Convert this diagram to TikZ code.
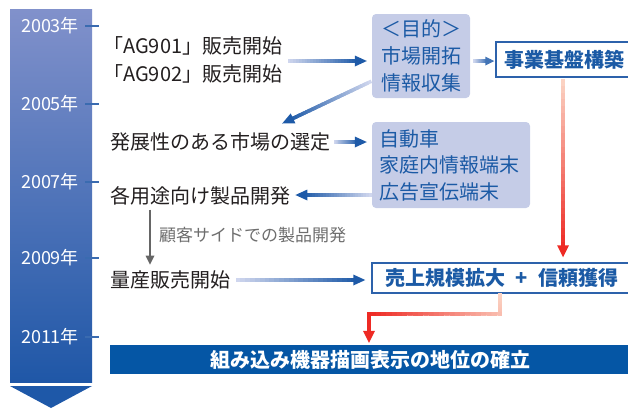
\documentclass[tikz,border=0pt]{standalone}
\usepackage{fontspec}
\setmainfont{Noto Sans CJK JP}
\usetikzlibrary{calc}
\definecolor{textblack}{HTML}{231F20}
\definecolor{bluetext}{HTML}{1B5AA5}
\definecolor{boxfill}{HTML}{C5CCE7}
\definecolor{boxborder}{HTML}{2D62AB}
\definecolor{barblue}{HTML}{0556A5}
\definecolor{graytext}{HTML}{6E6E6E}
\definecolor{grayarrow}{HTML}{666666}
\definecolor{tltop}{HTML}{8191CB}
\definecolor{tlbot}{HTML}{1F57A7}
\definecolor{tltri}{HTML}{1E58A8}
\definecolor{tickblue}{HTML}{3A6BB0}
\definecolor{arrL}{HTML}{D3D9EF}
\definecolor{arrD}{HTML}{1E5AA8}
\definecolor{redL}{HTML}{FBD5C5}
\definecolor{redD}{HTML}{EE2A24}
\colorlet{redM}{redD!12!redL}

% gradient line: start, end, colour A, colour B, width
\newcommand\gradline[5]{%
  \foreach \i in {0,...,24}{%
    \pgfmathsetmacro\gta{\i/25}%
    \pgfmathsetmacro\gtb{min(1,(\i+1.2)/25)}%
    \pgfmathtruncatemacro\gpc{100*(\i+0.5)/25}%
    \draw[line width=#5, line cap=rect, color=#4!\gpc!#3] ($(#1)!\gta!(#2)$) -- ($(#1)!\gtb!(#2)$);
  }}
% gradient arrow: start, end, colour A, colour B, width, head length, head width
\newcommand\gradarrow[7]{%
  \pgfmathsetmacro\gahs{#6*0.6}%
  \pgfmathsetmacro\gahw{#7/2}%
  \coordinate (gah) at ($(#2)!#6pt!(#1)$);
  \coordinate (gas) at ($(#2)!\gahs pt!(#1)$);
  \gradline{#1}{gas}{#3}{#4}{#5}
  \fill[#4] (#2) -- ($(gah)!\gahw pt!90:(#2)$) -- ($(gah)!\gahw pt!-90:(#2)$) -- cycle;
}

\tikzset{
  txt/.style={inner sep=0pt, text=textblack, font=\fontsize{20}{28}\selectfont},
  graytxt/.style={inner sep=0pt, text=graytext, font=\fontsize{17}{20}\selectfont},
  yearlbl/.style={inner sep=0pt, text=white, font=\fontsize{18}{20}\selectfont},
  yeartick/.style={draw=tickblue, line width=1.2pt},
  bluebox/.style={fill=boxfill, rounded corners=4pt, text=bluetext, inner sep=0pt},
  framebox/.style={draw=boxborder, line width=1.5pt, fill=white, text=bluetext, inner sep=0pt,
    font=\bfseries\fontsize{20}{24}\selectfont},
  barbox/.style={fill=barblue, text=white, inner sep=0pt, font=\bfseries\fontsize{20}{24}\selectfont},
  grayarr/.style={draw=grayarrow, line width=1.5pt},
}

\begin{document}
\begin{tikzpicture}[x=1pt,y=-1pt]
\useasboundingbox (0,0) rectangle (628,408);

% timeline
\shade[top color=tltop, bottom color=tlbot] (10,9) rectangle (92,382);
\fill[tltri] (10,386) -- (92,386) -- (51,408) -- cycle;
\foreach \yy/\lbl in {26/2003年, 104/2005年, 182/2007年, 258/2009年, 337/2011年}{
  \node[yearlbl] at (50,\yy) {\lbl};
  \draw[yeartick] (85,\yy) -- (99,\yy);
}

% nodes
\node[txt, anchor=west, align=left] (ag) at (103,60) {「AG901」販売開始\\「AG902」販売開始};
\node[bluebox, minimum width=98, minimum height=84, align=center,
      font=\fontsize{20}{27}\selectfont] (box1) at (421,56) {＜目的＞\\市場開拓\\情報収集};
\node[framebox, minimum width=136, minimum height=35] (jigyo) at (564,59.5) {事業基盤構築};
\node[txt, anchor=west] (sel) at (110,142) {発展性のある市場の選定};
\node[bluebox, minimum width=158, minimum height=86, text width=144, inner xsep=7pt, align=left,
      font=\fontsize{20}{26.5}\selectfont] (box2) at (451,165) {自動車\\家庭内情報端末\\広告宣伝端末};
\node[txt, anchor=west] (kaku) at (110,196) {各用途向け製品開発};
\node[graytxt, anchor=west] (kokyaku) at (159,235) {顧客サイドでの製品開発};
\node[txt, anchor=west] (ryo) at (110,280) {量産販売開始};
\node[framebox, minimum width=260, minimum height=30] (uri) at (502,278) {売上規模拡大\hspace{10pt}+\hspace{10pt}信頼獲得};
\node[barbox, minimum width=520, minimum height=29] (bar) at (370,359.5) {組み込み機器描画表示の地位の確立};

% blue connectors
\coordinate (c1s) at ($(ag.east)+(7,1)$);
\coordinate (c1e) at ($(box1.west)+(-5,5)$);
\gradarrow{c1s}{c1e}{arrL}{arrD}{3.5}{12}{11}
\coordinate (c2s) at ($(box1.east)+(5,5)$);
\coordinate (c2e) at ($(jigyo.west)+(-1,1.5)$);
\gradarrow{c2s}{c2e}{arrL}{arrD!80!arrL}{3.5}{9}{9}
\coordinate (c3s) at ($(box1.west)+(-2,26)$);
\coordinate (c3e) at ($(sel.north)+(62,-9)$);
\gradarrow{c3s}{c3e}{arrL}{arrD}{3.5}{12}{11}
\coordinate (c4s) at ($(sel.east)+(5,0)$);
\coordinate (c4e) at ($(box2.west)+(-5,-23)$);
\gradarrow{c4s}{c4e}{arrL}{arrD}{3.5}{12}{11}
\coordinate (c5s) at ($(box2.west)+(-2,30)$);
\coordinate (c5e) at ($(kaku.east)+(5,-1)$);
\gradarrow{c5s}{c5e}{arrL}{arrD}{3.5}{12}{11}
\coordinate (c7s) at ($(ryo.east)+(7,0)$);
\coordinate (c7e) at ($(uri.west)+(-6,2)$);
\gradarrow{c7s}{c7e}{arrL}{arrD}{3.5}{12}{11}

% gray connector
\coordinate (g1s) at ($(kaku.south west)+(40,4)$);
\coordinate (g1e) at ($(ryo.north west)+(40,-6)$);
\draw[grayarr] (g1s) -- ($(g1e)+(0,-8)$);
\fill[grayarrow] (g1e) -- ($(g1e)+(-4.5,-9)$) -- ($(g1e)+(4.5,-9)$) -- cycle;

% red connectors
\coordinate (r1s) at ($(jigyo.south)+(-1,3)$);
\coordinate (r1e) at ($(uri.north)+(61,-5)$);
\gradarrow{r1s}{r1e}{redL}{redD}{3.5}{12}{12}
\coordinate (r2a) at ($(uri.south)+(-2,1)$);
\coordinate (r2b) at ($(uri.south)+(-2,20)$);
\coordinate (r2d) at ($(bar.north)+(-1,-2)$);
\coordinate (r2c) at (r2b -| r2d);
\gradline{r2a}{r2b}{redL}{redM}{3.5}
\gradline{r2b}{r2c}{redM}{redD}{3.5}
\gradarrow{r2c}{r2d}{redD}{redD}{3.5}{12}{12}

\end{tikzpicture}
\end{document}
